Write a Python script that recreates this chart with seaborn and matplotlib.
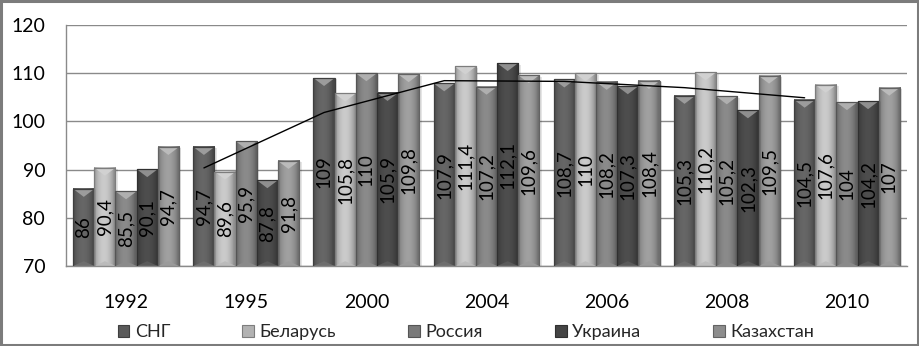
import numpy as np
import pandas as pd
import matplotlib
matplotlib.use("Agg")
import matplotlib.pyplot as plt
import seaborn as sns
from matplotlib.patches import Polygon, Rectangle, Patch
from matplotlib.colors import to_rgb

# Индексы по годам (предыдущий год = 100)
years = ["1992", "1995", "2000", "2004", "2006", "2008", "2010"]
countries = ["СНГ", "Беларусь", "Россия", "Украина", "Казахстан"]
cis = [86, 94.7, 109, 107.9, 108.7, 105.3, 104.5]
belarus = [90.4, 89.6, 105.8, 111.4, 110, 110.2, 107.6]
russia = [85.5, 95.9, 110, 107.2, 108.2, 105.2, 104]
ukraine = [90.1, 87.8, 105.9, 112.1, 107.3, 102.3, 104.2]
kazakhstan = [94.7, 91.8, 109.8, 109.6, 108.4, 109.5, 107]
yticks = [70, 80, 90, 100, 110, 120]

colors = ["#5a5a5a", "#b2b2b2", "#7a7a7a", "#444444", "#8d8d8d"]

wide = pd.DataFrame({"Год": years, "СНГ": cis, "Беларусь": belarus,
                     "Россия": russia, "Украина": ukraine, "Казахстан": kazakhstan})
long = wide.melt(id_vars="Год", var_name="Страна", value_name="Индекс")
values_by_country = [cis, belarus, russia, ukraine, kazakhstan]

sns.set_theme(style="white")
plt.rcParams["font.family"] = ["Lato", "Noto Sans", "DejaVu Sans"]

fig = plt.figure(figsize=(9.2, 3.46), dpi=100)
ax = fig.add_axes([66 / 920, 80 / 346, 841 / 920, 241 / 346])

sns.barplot(data=long, x="Год", y="Индекс", hue="Страна", hue_order=countries,
            palette=colors, width=0.88, gap=0, saturation=1, legend=False, ax=ax)

ymin, ymax = yticks[0], yticks[-1]
ax.set_ylim(ymin, ymax)
ax.set_yticks(yticks)
ax.yaxis.grid(True, color="#8a8a8a", lw=1)
ax.set_axisbelow(True)
for s in ["top", "right"]:
    ax.spines[s].set_visible(False)
for s in ["left", "bottom"]:
    ax.spines[s].set_color("#8a8a8a")
    ax.spines[s].set_linewidth(1)
ax.set_xlabel("")
ax.set_ylabel("")
ax.tick_params(axis="y", length=0, pad=15, labelsize=14, labelcolor="black")
ax.tick_params(axis="x", length=0, pad=20, labelsize=14, labelcolor="black")
xlim = ax.get_xlim()

# vertical pixel scale for the bevel depth
units_per_px = (ymax - ymin) / 241.0
bevel = 8 * units_per_px


def shade(rgb, k):
    return tuple(np.clip(np.array(rgb) * k, 0, 1))


def tint(rgb, k):
    rgb = np.array(rgb)
    return tuple(rgb + (1 - rgb) * k)


t = np.linspace(0, 1, 40)
profile = 0.80 + 0.34 * np.sin(np.pi * np.clip(t * 1.1, 0, 1)) ** 0.7

for container, color, vals in zip(ax.containers, colors, values_by_country):
    base = to_rgb(color)
    for bar, v in zip(container, vals):
        x, w = bar.get_x(), bar.get_width()
        # soft shadow
        ax.add_patch(Rectangle((x + w * 0.12, ymin), w, v - ymin - 0.3,
                               facecolor="black", alpha=0.10, lw=0, zorder=1.5))
        grad = np.clip(np.array(base)[None, None, :] * profile[None, :, None], 0, 1)
        ax.imshow(grad, extent=[x, x + w, ymin, v], aspect="auto",
                  interpolation="bilinear", zorder=2)
        # top bevel
        ax.add_patch(Polygon([(x, v), (x + w, v), (x + w / 2, v - bevel)],
                             closed=True, facecolor=tint(base, 0.4),
                             edgecolor="none", zorder=2.5))
        # bottom bevel
        ax.add_patch(Polygon([(x, ymin), (x + w, ymin), (x + w / 2, ymin + bevel * 0.6)],
                             closed=True, facecolor=tint(base, 0.12),
                             edgecolor="none", zorder=2.5))
        bar.set_facecolor("none")
        bar.set_edgecolor(shade(base, 0.7))
        bar.set_linewidth(0.9)
        bar.set_zorder(3)
        label = f"{v:g}".replace(".", ",")
        ax.text(x + w / 2, (ymin + v) / 2, label, rotation=90, ha="center",
                va="center", fontsize=13.5, color="black", zorder=5)

# скользящее среднее (2 периода) по СНГ
ma = pd.Series(cis).rolling(2).mean()
centers = [b.get_x() + b.get_width() / 2 for b in ax.containers[0]]
ax.plot(centers[1:], ma.values[1:], color="black", lw=1, zorder=6)

ax.set_xlim(xlim)
ax.set_ylim(ymin, ymax)

handles = [Patch(facecolor=c, edgecolor=shade(to_rgb(c), 0.7), lw=0.8) for c in colors]
fig.legend(handles, countries, loc="center", bbox_to_anchor=(466 / 920, 1 - 332 / 346),
           ncol=5, frameon=False, fontsize=13, handlelength=0.65, handleheight=0.65,
           handletextpad=0.3, columnspacing=4.0)

fig.add_artist(Rectangle((0.0015, 0.003), 0.996, 0.994, transform=fig.transFigure,
                         fill=False, edgecolor="#7c7c7c", lw=2.2))

fig.savefig("out.png", dpi=100)
